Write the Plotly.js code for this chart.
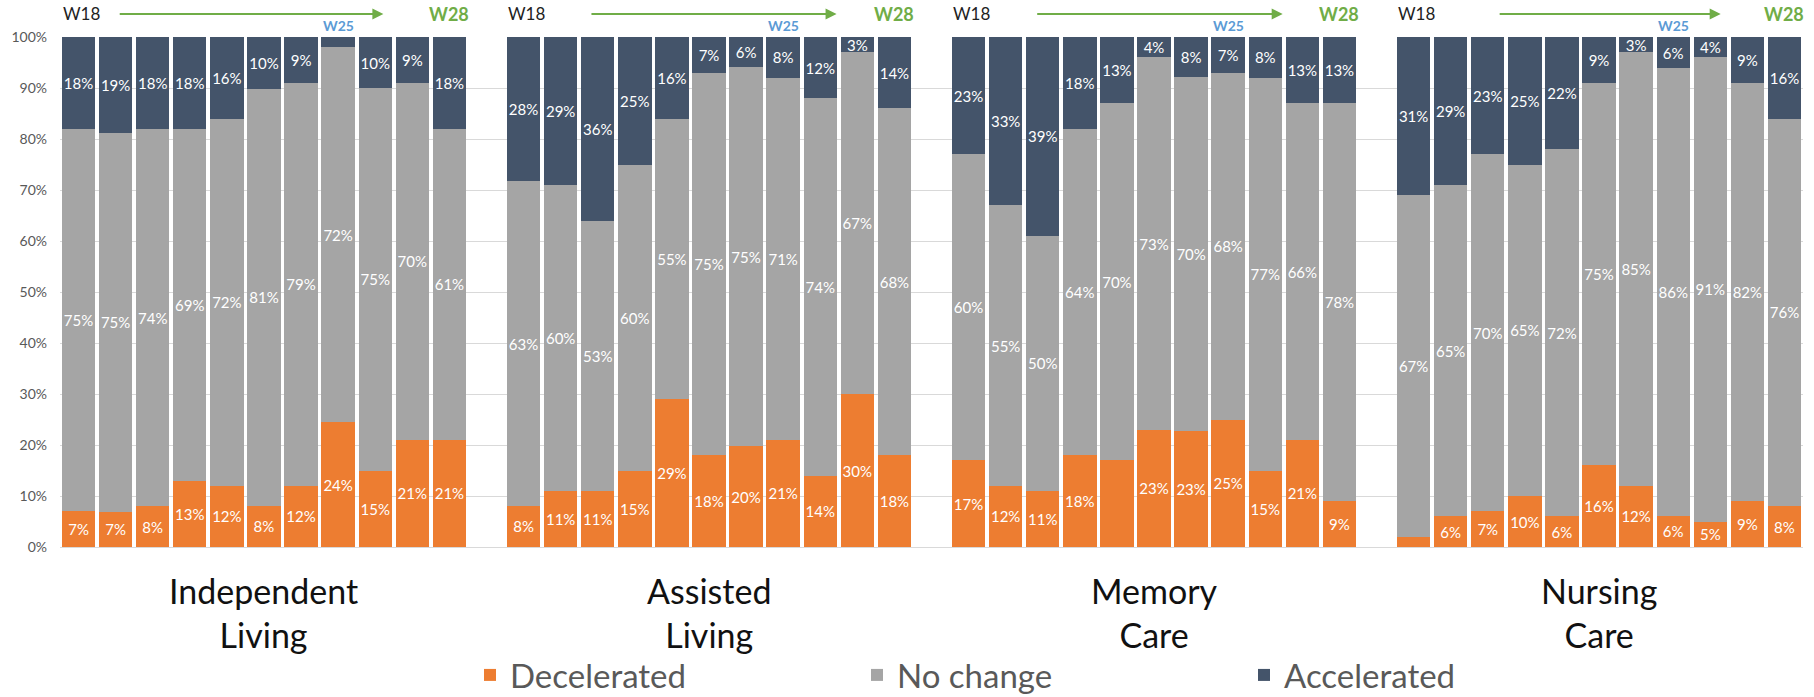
<!DOCTYPE html>
<html>
<head>
<meta charset="utf-8">
<script src="https://cdn.plot.ly/plotly-3.0.1.min.js"></script>
<style>
html,body{margin:0;padding:0;background:#ffffff;}
#chart{width:1814px;height:697px;}
</style>
</head>
<body>
<div id="chart"></div>
<script>
// ---------- data (underlying % values as labelled; Excel-style 100% stacked) ----------
const categories = ['Independent<br>Living', 'Assisted<br>Living', 'Memory<br>Care', 'Nursing<br>Care'];
const weeks = ['W18','W19','W20','W21','W22','W23','W24','W25','W26','W27','W28'];
const seriesNames = ['Decelerated', 'No change', 'Accelerated'];
const seriesColors = ['#ED7D31', '#A5A5A5', '#44546A'];

const ilDecelerated = [7, 7, 8, 13, 12, 8, 12, 24, 15, 21, 21];
const ilNoChange    = [75, 75, 74, 69, 72, 81, 79, 72, 75, 70, 61];
const ilAccelerated = [18, 19, 18, 18, 16, 10, 9, 2, 10, 9, 18];

const alDecelerated = [8, 11, 11, 15, 29, 18, 20, 21, 14, 30, 18];
const alNoChange    = [63, 60, 53, 60, 55, 75, 75, 71, 74, 67, 68];
const alAccelerated = [28, 29, 36, 25, 16, 7, 6, 8, 12, 3, 14];

const mcDecelerated = [17, 12, 11, 18, 17, 23, 23, 25, 15, 21, 9];
const mcNoChange    = [60, 55, 50, 64, 70, 73, 70, 68, 77, 66, 78];
const mcAccelerated = [23, 33, 39, 18, 13, 4, 8, 7, 8, 13, 13];

const ncDecelerated = [2, 6, 7, 10, 6, 16, 12, 6, 5, 9, 8];
const ncNoChange    = [67, 65, 70, 65, 72, 75, 85, 86, 91, 82, 76];
const ncAccelerated = [31, 29, 23, 25, 22, 9, 3, 6, 4, 9, 16];

// data labels that are not drawn in the original: [category index, week, series index]
const hiddenLabels = [[0, 'W25', 2], [2, 'W22', 0], [3, 'W18', 0]];

const yTicks = [0, 10, 20, 30, 40, 50, 60, 70, 80, 90, 100];
const weekMarks = {start: 'W18', middle: 'W25', end: 'W28'};

// ---------- build ----------
const groups = [
  [ilDecelerated, ilNoChange, ilAccelerated],
  [alDecelerated, alNoChange, alAccelerated],
  [mcDecelerated, mcNoChange, mcAccelerated],
  [ncDecelerated, ncNoChange, ncAccelerated]
];
const slots = weeks.length + 1;               // one empty slot between groups
const xOf = (g, i) => g * slots + i;
const isHidden = (g, i, s) => hiddenLabels.some(h => h[0] === g && h[1] === weeks[i] && h[2] === s);

const traces = seriesNames.map((name, s) => {
  const x = [], y = [], text = [];
  groups.forEach((grp, g) => {
    grp[s].forEach((v, i) => {
      x.push(xOf(g, i));
      y.push(v);
      text.push(isHidden(g, i, s) ? '' : v + '%');
    });
  });
  return {
    type: 'bar', name: name, x: x, y: y, text: text,
    textposition: 'inside', insidetextanchor: 'middle', textangle: 0,
    constraintext: 'none',
    textfont: {family: 'Lato', size: 15, color: '#FFFFFF'},
    marker: {color: seriesColors[s], line: {width: 0}},
    hoverinfo: 'skip'
  };
});

// layout helpers (positions in bar-slot units relative to each group's first bar)
const arrowStart = [1.07, 1.79, 1.81, 2.28];
const arrowEnd   = [8.22, 8.44, 8.47, 8.28];

const annotations = [];
categories.forEach((cat, g) => {
  annotations.push({
    x: xOf(g, (weeks.length - 1) / 2), xref: 'x', y: -0.042, yref: 'paper',
    xanchor: 'center', yanchor: 'top', showarrow: false, text: cat,
    font: {family: 'Lato', size: 34, color: '#111111'}
  });
  annotations.push({
    x: xOf(g, 0) - 0.47, xref: 'x', y: 1.047, yref: 'paper',
    xanchor: 'left', yanchor: 'middle', showarrow: false, text: weekMarks.start,
    font: {family: 'Lato', size: 17, color: '#222222'}
  });
  annotations.push({
    x: xOf(g, weeks.indexOf(weekMarks.middle)), xref: 'x', y: 1.0225, yref: 'paper',
    xanchor: 'center', yanchor: 'middle', showarrow: false, text: '<b>' + weekMarks.middle + '</b>',
    font: {family: 'Lato', size: 14, color: '#5B9BD5'}
  });
  annotations.push({
    x: xOf(g, weeks.indexOf(weekMarks.end)), xref: 'x', y: 1.045, yref: 'paper',
    xanchor: 'center', yanchor: 'middle', showarrow: false, text: '<b>' + weekMarks.end + '</b>',
    font: {family: 'Lato', size: 18, color: '#70AD47'}
  });
  annotations.push({
    x: xOf(g, arrowEnd[g]), xref: 'x', y: 1.045, yref: 'paper',
    ax: xOf(g, arrowStart[g]), axref: 'x', ay: 0, ayref: 'pixel',
    showarrow: true, arrowhead: 2, arrowsize: 1.1, arrowwidth: 2, arrowcolor: '#70AD47',
    text: ''
  });
});

const layout = {
  width: 1814, height: 697,
  margin: {l: 60, r: 11, t: 37, b: 150, pad: 0, autoexpand: false},
  barmode: 'stack', barnorm: 'percent', bargap: 0.1,
  paper_bgcolor: '#FFFFFF', plot_bgcolor: '#FFFFFF',
  font: {family: 'Lato', color: '#595959'},
  xaxis: {
    range: [-0.5, groups.length * slots - 1.5],
    showticklabels: false, showgrid: false, zeroline: false, ticks: '', showline: false
  },
  yaxis: {
    range: [0, 100], tickvals: yTicks, ticktext: yTicks.map(v => v + '%'),
    showgrid: true, gridcolor: '#D9D9D9', gridwidth: 1,
    zeroline: true, zerolinecolor: '#D9D9D9', zerolinewidth: 1,
    ticks: '', showline: false, ticklabelstandoff: 12,
    tickfont: {family: 'Lato', size: 14, color: '#595959'}
  },
  showlegend: true,
  legend: {
    orientation: 'h', xref: 'container', yref: 'container',
    x: 0.2591, xanchor: 'left', y: 0.0316, yanchor: 'middle',
    font: {family: 'Lato', size: 33, color: '#595959'},
    entrywidth: 342, entrywidthmode: 'pixels', traceorder: 'normal',
    bgcolor: 'rgba(0,0,0,0)'
  },
  uniformtext: {minsize: 15, mode: 'show'},
  annotations: annotations
};

Plotly.newPlot('chart', traces, layout, {displayModeBar: false, staticPlot: true});
</script>
</body>
</html>
